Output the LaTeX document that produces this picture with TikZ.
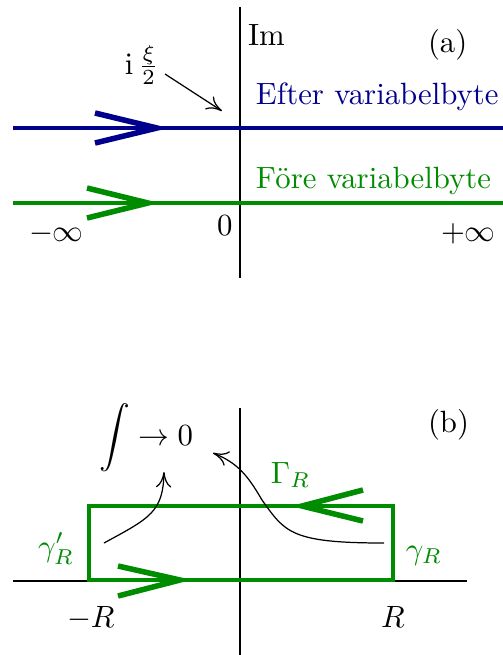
\documentclass[tikz,border=0pt]{standalone}
\usepackage{xcolor}
\usepackage{amsmath,amssymb}
\usepackage{tikz}
\usetikzlibrary{arrows.meta}

\begin{document}
\begin{tikzpicture}[x=.325pt,y=-.325pt,
  lbl/.style={inner sep=0pt,outer sep=0pt,anchor=base west},
  thinline/.style={draw=black,line width=0.4pt},
  pointer/.style={thinline,-{To[length=5pt,width=5pt]}},
  contour/.style={line width=1.5pt},
  barb/.style={line width=1.8pt},
  cblue/.style={draw={rgb,255:red,0;green,0;blue,140},text={rgb,255:red,0;green,0;blue,140}},
  cgreen/.style={draw={rgb,255:red,0;green,140;blue,0},text={rgb,255:red,0;green,140;blue,0}}]
\path[use as bounding box] (0,0) rectangle (503,655);
\path[fill=white,draw=none] (0,0) rectangle (503,655);
% (a)
\draw[thinline] (240,7) -- (240,278);
\draw[contour,cblue] (13,128) -- (503,128);
\draw[barb,cblue] (95,113) -- (157,128) -- (95,143);
\draw[contour,cgreen] (13,203) -- (503,203);
\draw[barb,cgreen] (87,188) -- (148,203) -- (87,218);
\node[lbl] (im) at (248,45) {Im};
\node[lbl] (tagA) at (428,52) {(a)};
\node[lbl,cblue,draw=none] (efter) at (256,104) {Efter variabelbyte};
\node[lbl,cgreen,draw=none] (fore) at (256,188) {Före variabelbyte};
\node[lbl] (minf) at (29,241) {$-\infty$};
\node[lbl] (zero) at (217,235) {$0$};
\node[lbl] (pinf) at (441,241) {$+\infty$};
\node[lbl] (shift) at (125,74) {$\mathrm{i}\,\frac{\xi}{2}$};
\coordinate (shiftpt) at (222,111);
\draw[pointer] (165,74) -- (shiftpt);
% (b)
\draw[thinline] (240,408) -- (240,655);
\draw[thinline] (13,581) -- (467,581);
\draw[contour,cgreen] (89,506) rectangle (393,580);
\draw[barb,cgreen] (118,566) -- (180,580) -- (118,596);
\draw[barb,cgreen] (363,490) -- (302,506) -- (363,521);
\node[lbl] (tagB) at (428,432) {(b)};
\node[lbl] (lim) at (99,445) {$\displaystyle\int\to 0$};
\node[lbl,cgreen,draw=none] (GammaR) at (271,483) {$\Gamma_R$};
\node[lbl,cgreen,draw=none] (gammaL) at (38,556) {$\gamma'_R$};
\node[lbl,cgreen,draw=none] (gammaR) at (406,559) {$\gamma_R$};
\node[lbl] (mR) at (67,627) {$-R$};
\node[lbl] (pR) at (381,627) {$R$};
\coordinate (leftin) at (104,543);
\coordinate (rightin) at (384,543);
\coordinate (limlow) at (164,472);
\coordinate (limright) at (213,453);
\draw[pointer] (leftin) .. controls (150,518) and (163,512) .. (limlow);
\draw[pointer] (rightin) .. controls (290,543) and (285,532) .. (262,500) .. controls (248,476) and (238,463) .. (limright);
\end{tikzpicture}
\end{document}
